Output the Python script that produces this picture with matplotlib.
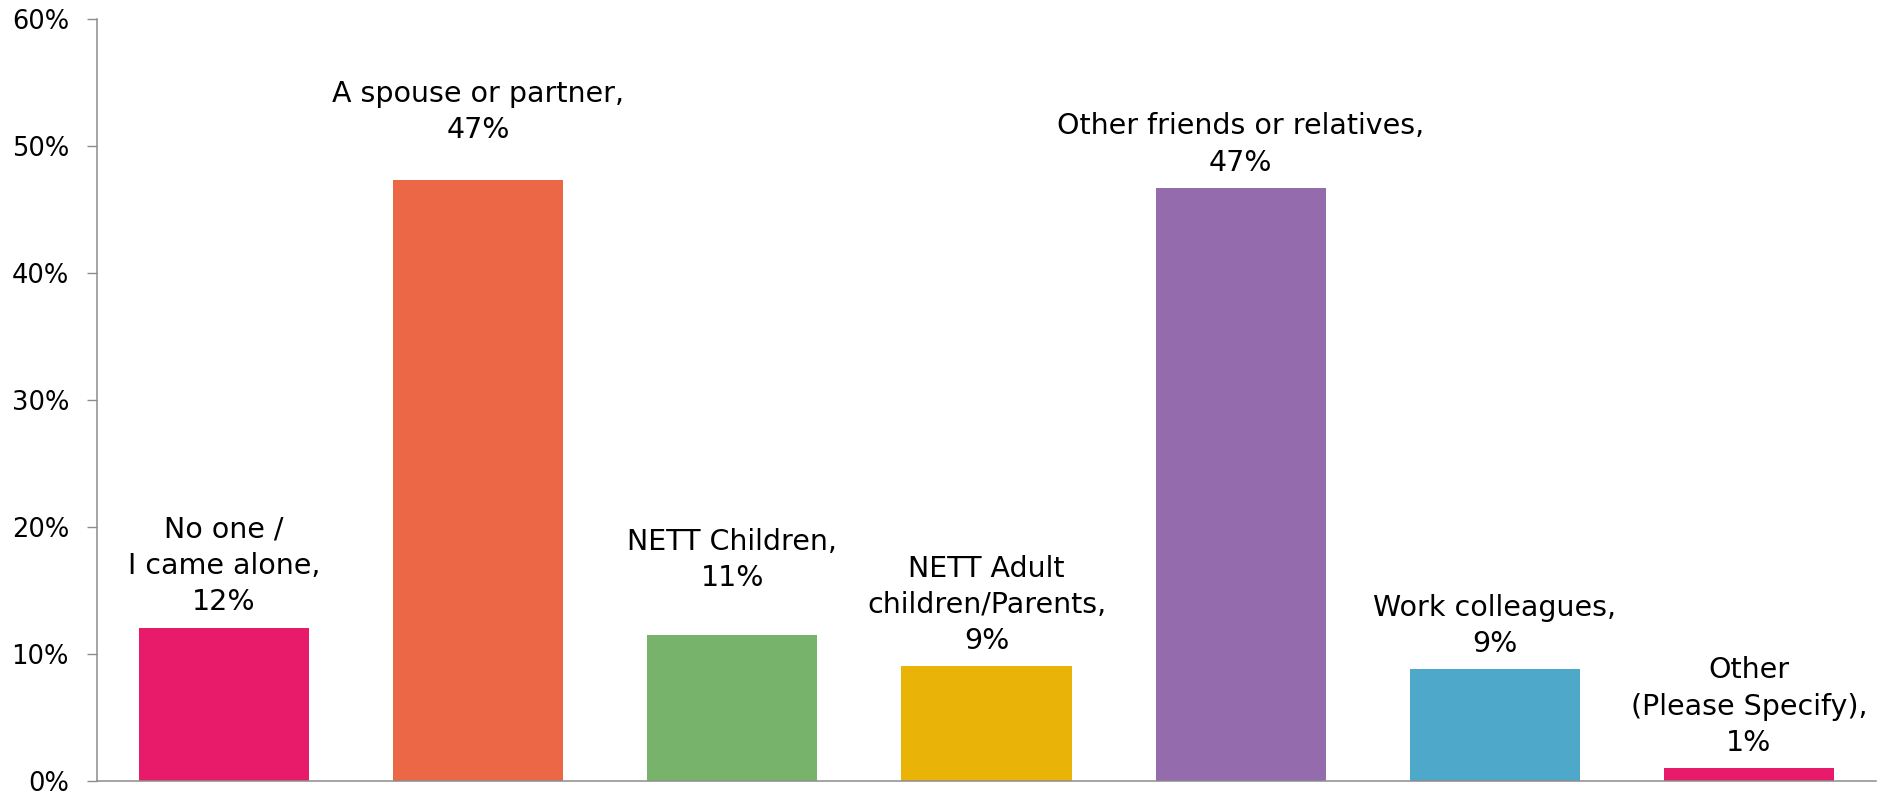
import matplotlib.pyplot as plt
from matplotlib.ticker import PercentFormatter

categories = ["No one /\nI came alone", "A spouse or partner", "NETT Children",
              "NETT Adult\nchildren/Parents", "Other friends or relatives",
              "Work colleagues", "Other\n(Please Specify)"]
values = [12.0, 47.3, 11.45, 9.0, 46.7, 8.8, 1.0]
colors = ["#E81B6B", "#EC6745", "#77B36A", "#EAB307", "#946CAE", "#4DA8CA", "#E81B6B"]

# gap in pixels between the bar top and the label's last baseline
label_gap = [19, 43, 50, 18, 18, 18, 18]

plt.rcParams['font.family'] = ['DejaVu Sans']

fig = plt.figure(figsize=(18.86, 7.92), dpi=100)
ax = fig.add_axes([97 / 1886, 1 - 780.7 / 792, (1876 - 97) / 1886, (780.7 - 19) / 792])

x = range(len(categories))
bars = ax.bar(x, values, width=0.67, color=colors)

ax.set_xlim(-0.5, len(categories) - 0.5)
ax.set_ylim(0, 60)
ax.set_yticks(range(0, 61, 10))
ax.yaxis.set_major_formatter(PercentFormatter(decimals=0))
ax.tick_params(axis='y', length=7.2, width=1, color='#8C8C8C', pad=13, labelsize=18.5)
ax.set_xticks([])

for side in ['top', 'right']:
    ax.spines[side].set_visible(False)
for side in ['left', 'bottom']:
    ax.spines[side].set_color('#8C8C8C')
    ax.spines[side].set_linewidth(1.1)

fs = 20.5
descent_px = 0.236 * fs * 100 / 72
for i, (name, v) in enumerate(zip(categories, values)):
    off = (label_gap[i] - descent_px) * 72 / 100
    ax.annotate("%s,\n%.0f%%" % (name, v), (i, v), xytext=(0, off),
                textcoords='offset points', ha='center', va='bottom',
                fontsize=fs, linespacing=1.37, color='black')

fig.savefig("out.png", dpi=100)
